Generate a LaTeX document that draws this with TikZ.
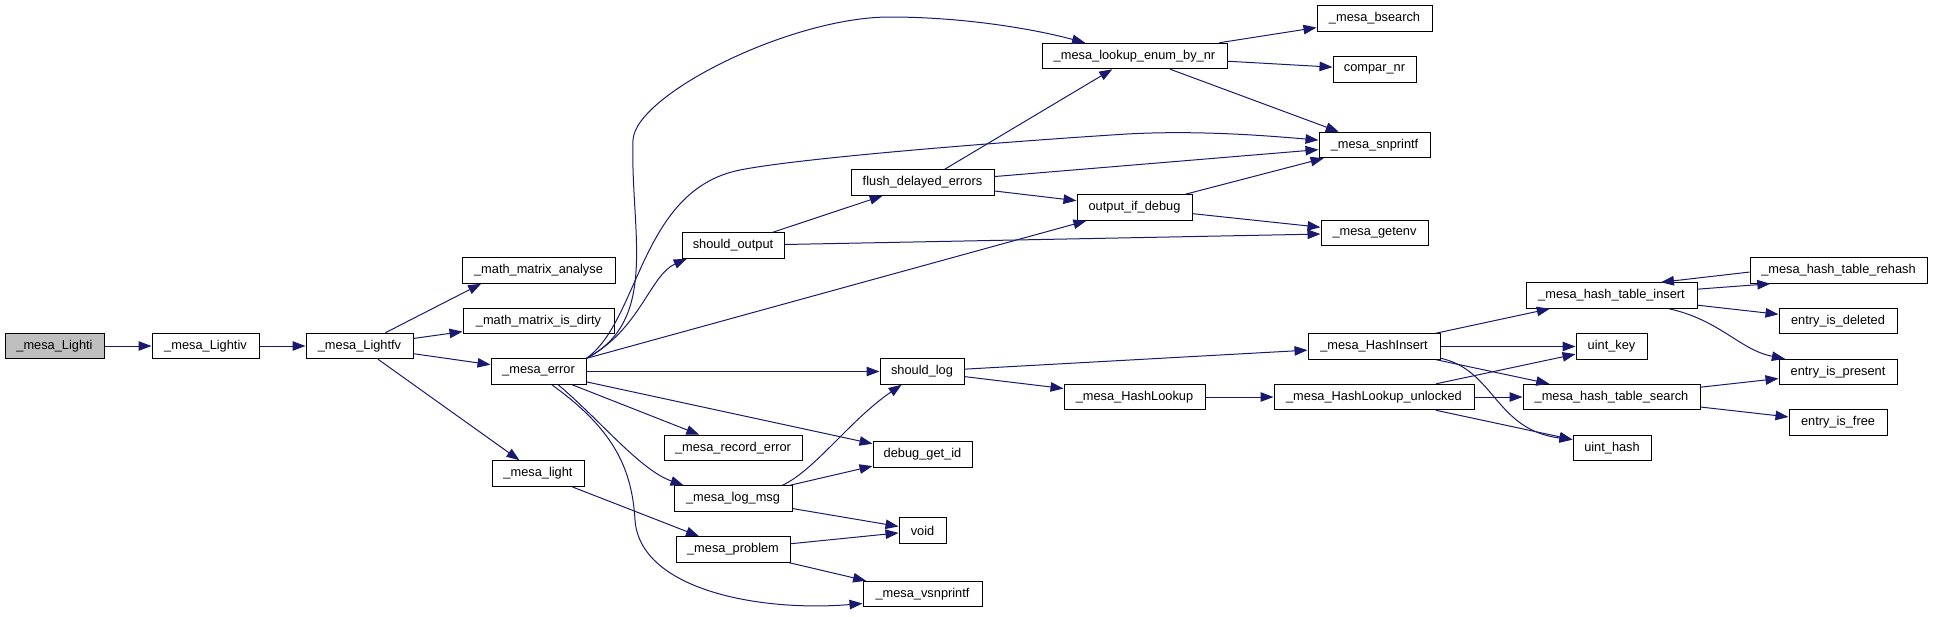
\documentclass[tikz,border=0pt]{standalone}
\usepackage{fontspec}
\setmainfont{Liberation Sans}
\usetikzlibrary{arrows.meta}
\definecolor{edgeblue}{HTML}{191970}
\definecolor{rootgray}{HTML}{BFBFBF}
\begin{document}
\begin{tikzpicture}[x=1pt,y=-1pt,
  func/.style={draw=black,line width=1pt,minimum width=#1,minimum height=25.5pt,inner xsep=0pt,font=\fontsize{12.8}{15}\selectfont},
  callarrow/.style={draw=edgeblue,line width=1pt,-{Triangle[length=13pt,width=9.5pt]}}]
\useasboundingbox (0,0) rectangle (1933,616);
\node[func=99,fill=rootgray] (lighti) at (54.5,346) {\_mesa\_Lighti};
\node[func=107] (lightiv) at (205.5,346) {\_mesa\_Lightiv};
\node[func=107] (lightfv) at (359.5,346) {\_mesa\_Lightfv};
\node[func=153] (analyse) at (538.5,270.5) {\_math\_matrix\_analyse};
\node[func=151] (isdirty) at (538.5,321) {\_math\_matrix\_is\_dirty};
\node[func=95] (error) at (538.5,371.5) {\_mesa\_error};
\node[func=92] (light) at (538,473.5) {\_mesa\_light};
\node[func=102] (shouldoutput) at (733,245.5) {should\_output};
\node[func=138] (recorderror) at (733,448) {\_mesa\_record\_error};
\node[func=118] (logmsg) at (733,498.5) {\_mesa\_log\_msg};
\node[func=114] (problem) at (733,549.5) {\_mesa\_problem};
\node[func=143] (flush) at (922.5,182.5) {flush\_delayed\_errors};
\node[func=84] (shouldlog) at (922,371.5) {should\_log};
\node[func=99] (debugid) at (922.5,454.5) {debug\_get\_id};
\node[func=47] (void) at (922.5,530.5) {void};
\node[func=119] (vsnprintf) at (922.5,594) {\_mesa\_vsnprintf};
\node[func=185] (lookup) at (1134.5,56) {\_mesa\_lookup\_enum\_by\_nr};
\node[func=115] (outputdebug) at (1134.5,207.5) {output\_if\_debug};
\node[func=141] (hashlookup) at (1134.5,397) {\_mesa\_HashLookup};
\node[func=115] (bsearch) at (1374.5,18.5) {\_mesa\_bsearch};
\node[func=83] (comparnr) at (1374.5,69.5) {compar\_nr};
\node[func=111] (snprintf) at (1374.5,145) {\_mesa\_snprintf};
\node[func=107] (getenv) at (1374.5,233) {\_mesa\_getenv};
\node[func=132] (hashinsert) at (1374,346.5) {\_mesa\_HashInsert};
\node[func=200] (unlocked) at (1374,397) {\_mesa\_HashLookup\_unlocked};
\node[func=171] (tinsert) at (1611.5,295.5) {\_mesa\_hash\_table\_insert};
\node[func=71] (uintkey) at (1611.5,346.5) {uint\_key};
\node[func=177] (tsearch) at (1611.5,397) {\_mesa\_hash\_table\_search};
\node[func=78] (uinthash) at (1612,448) {uint\_hash};
\node[func=177] (rehash) at (1838.5,270.5) {\_mesa\_hash\_table\_rehash};
\node[func=118] (deleted) at (1838,321) {entry\_is\_deleted};
\node[func=118] (present) at (1838,372) {entry\_is\_present};
\node[func=98] (isfree) at (1838,422.5) {entry\_is\_free};
\draw[callarrow] (lighti) -- (lightiv);
\draw[callarrow] (lightiv) -- (lightfv);
\draw[callarrow] (lightfv) -- (analyse.193);
\draw[callarrow] (lightfv) -- (isdirty);
\draw[callarrow] (lightfv) -- (error);
\draw[callarrow] (lightfv) -- (light);
\draw[callarrow] (error.north east) .. controls (660,320) and (630,230) .. (633,140)
  .. controls (635,95) and (790,17) .. (890,17) .. controls (960,17) and (1030,28) .. (lookup.165);
\draw[callarrow] (error.north east) .. controls (640,320) and (640,190) .. (740,170)
  .. controls (800,158) and (1000,142) .. (1127,134) .. controls (1200,130) and (1270,136) .. (snprintf.175);
\draw[callarrow] (error.north east) .. controls (640,330) and (650,275) .. (shouldoutput.196);
\draw[callarrow] (error) -- (outputdebug);
\draw[callarrow] (error) -- (shouldlog);
\draw[callarrow] (error) -- (debugid);
\draw[callarrow] (error) -- (recorderror);
\draw[callarrow] (error.-34) .. controls (600,420) and (640,470) .. (logmsg.165);
\draw[callarrow] (error.-45) .. controls (615,430) and (632,470) .. (635,520)
  .. controls (640,590) and (760,612) .. (vsnprintf.189);
\draw[callarrow] (light) -- (problem);
\draw[callarrow] (shouldoutput) -- (flush);
\draw[callarrow] (shouldoutput) -- (getenv);
\draw[callarrow] (flush) -- (lookup);
\draw[callarrow] (flush) -- (snprintf);
\draw[callarrow] (flush) -- (outputdebug);
\draw[callarrow] (outputdebug) -- (snprintf);
\draw[callarrow] (outputdebug) -- (getenv);
\draw[callarrow] (lookup) -- (bsearch);
\draw[callarrow] (lookup) -- (comparnr);
\draw[callarrow] (lookup) -- (snprintf);
\draw[callarrow] (shouldlog) -- (hashinsert);
\draw[callarrow] (shouldlog) -- (hashlookup);
\draw[callarrow] (logmsg.15) .. controls (815,470) and (850,420) .. (shouldlog.213);
\draw[callarrow] (logmsg) -- (debugid);
\draw[callarrow] (logmsg) -- (void);
\draw[callarrow] (problem) -- (void);
\draw[callarrow] (problem) -- (vsnprintf);
\draw[callarrow] (hashlookup) -- (unlocked);
\draw[callarrow] (hashinsert) -- (tinsert);
\draw[callarrow] (hashinsert) -- (uintkey);
\draw[callarrow] (hashinsert) -- (tsearch);
\draw[callarrow] (hashinsert.-10) .. controls (1495,370) and (1495,430) .. (uinthash.168);
\draw[callarrow] (unlocked) -- (uintkey);
\draw[callarrow] (unlocked) -- (tsearch);
\draw[callarrow] (unlocked) -- (uinthash);
\draw[callarrow] (tinsert) -- (rehash.191);
\draw[callarrow] (rehash.181) -- (tinsert.15);
\draw[callarrow] (tinsert) -- (deleted);
\draw[callarrow] (tinsert.-13) .. controls (1720,320) and (1740,350) .. (present.166);
\draw[callarrow] (tsearch) -- (present);
\draw[callarrow] (tsearch) -- (isfree);
\end{tikzpicture}
\end{document}
